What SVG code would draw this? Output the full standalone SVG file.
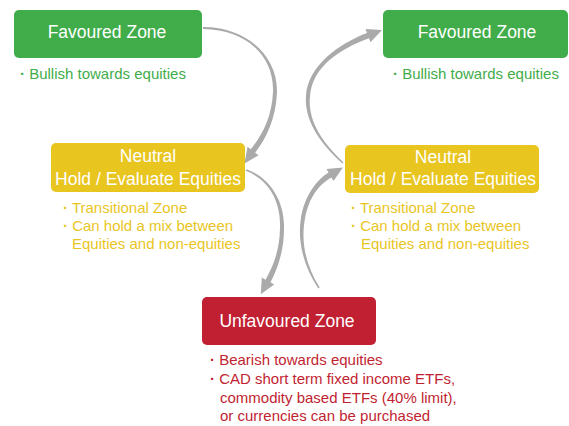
<svg xmlns="http://www.w3.org/2000/svg" width="569" height="426" viewBox="0 0 569 426">
  <style>
    .box-green { fill: #41ad4a; }
    .box-yellow { fill: #e9c51f; }
    .box-red { fill: #c11f32; }
    .title { font-family: "Liberation Sans", Arial, sans-serif; font-size: 17.5px; fill: #ffffff; text-anchor: middle; }
    .note { font-family: "Liberation Sans", Arial, sans-serif; font-size: 15px; }
    .dot { font-weight: bold; }
    .note-green { fill: #41ad4a; }
    .note-yellow { fill: #e9c51f; }
    .note-red { fill: #c11f32; }
    .arrow { fill: #aaaaaa; }
  </style>

  <!-- Tapered curved arrows between zones -->
  <g id="connectors">
    <path class="arrow" d="M203,29 C245,29.3 274.2,55 273,92 C271.8,118 261.9,135.4 250.8,149.3 L247.5,146.7 L244.5,163.5 L258.5,155.3 L255.2,152.7 C266.1,138.6 276.2,118 277,92 C277.8,55 245,26.7 203,27 Z"/>
    <path class="arrow" d="M245.7,170.8 C267.6,179.1 281.2,200 280,228 C279.8,252 271.7,268.8 265.5,279.7 L261.8,277.6 L260.8,294.2 L274.2,284.4 L270.5,282.3 C276.3,271.2 284.2,252 284,228 C284.8,200 268.4,176.9 246.3,169.2 Z"/>
    <path class="arrow" d="M319.7,287.6 C305,264.3 300.8,240.3 305,218.4 C309.2,196.4 319.3,184.2 331.4,177.4 L333.5,181 L342.9,167.5 L326.5,169 L328.6,172.6 C316.7,179.8 304.8,195.6 301,217.6 C297.2,239.7 303,265.7 318.3,288.4 Z"/>
    <path class="arrow" d="M343.5,162.4 C318.8,139.1 307.8,118.2 310,96.2 C312.2,66.2 340.9,48.4 369,38.2 L370.5,42.2 L382,30 L365.5,29 L367,33 C339.1,43.6 307.8,65.8 306,95.8 C304.2,117.8 317.2,140.9 342.5,163.6 Z"/>
  </g>

  <g id="favoured-left">
    <rect class="box-green" x="14" y="10" width="188" height="48" rx="5"/>
    <text class="title" x="107" y="38">Favoured Zone</text>
    <text class="note note-green" x="20" y="79"><tspan class="dot">·</tspan> Bullish towards equities</text>
  </g>

  <g id="favoured-right">
    <rect class="box-green" x="383" y="10" width="185" height="48" rx="5"/>
    <text class="title" x="477" y="38">Favoured Zone</text>
    <text class="note note-green" x="393" y="79"><tspan class="dot">·</tspan> Bullish towards equities</text>
  </g>

  <g id="neutral-left">
    <rect class="box-yellow" x="51" y="143" width="194" height="49" rx="5"/>
    <text class="title" x="148" y="162">Neutral</text>
    <text class="title" x="148" y="185">Hold / Evaluate Equities</text>
    <text class="note note-yellow" x="63" y="213"><tspan class="dot">·</tspan> Transitional Zone</text>
    <text class="note note-yellow" x="63" y="231"><tspan class="dot">·</tspan> Can hold a mix between</text>
    <text class="note note-yellow" x="72" y="249">Equities and non-equities</text>
  </g>

  <g id="neutral-right">
    <rect class="box-yellow" x="345" y="145" width="194" height="48" rx="5"/>
    <text class="title" x="443" y="163">Neutral</text>
    <text class="title" x="443" y="185">Hold / Evaluate Equities</text>
    <text class="note note-yellow" x="351" y="213"><tspan class="dot">·</tspan> Transitional Zone</text>
    <text class="note note-yellow" x="351" y="231"><tspan class="dot">·</tspan> Can hold a mix between</text>
    <text class="note note-yellow" x="361" y="249">Equities and non-equities</text>
  </g>

  <g id="unfavoured">
    <rect class="box-red" x="202" y="297" width="174" height="48" rx="5"/>
    <text class="title" x="287" y="327">Unfavoured Zone</text>
    <text class="note note-red" x="210" y="365"><tspan class="dot">·</tspan> Bearish towards equities</text>
    <text class="note note-red" x="210" y="384"><tspan class="dot">·</tspan> CAD short term fixed income ETFs,</text>
    <text class="note note-red" x="220" y="403">commodity based ETFs (40% limit),</text>
    <text class="note note-red" x="220" y="421">or currencies can be purchased</text>
  </g>
</svg>
